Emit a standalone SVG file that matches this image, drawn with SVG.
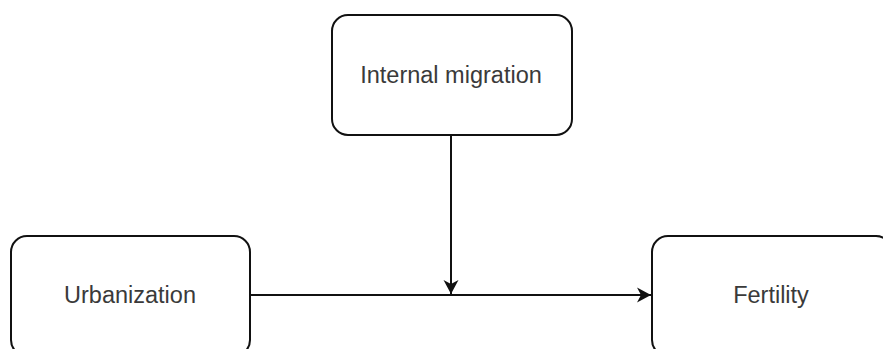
<svg xmlns="http://www.w3.org/2000/svg" width="883" height="349" viewBox="0 0 883 349">
<style>
.box{fill:#fff;stroke:#111;stroke-width:2}
.lbl{font-family:"Liberation Sans",Arial,sans-serif;font-size:23.5px;fill:#3a3a3a;text-anchor:middle}
.edge{stroke:#111;stroke-width:2;fill:none}
</style>
<defs>
<marker id="arr" markerWidth="18" markerHeight="18" refX="15" refY="9" orient="auto" markerUnits="userSpaceOnUse">
<path d="M1,1.5 L15,9 L1,16.5 L5,9 Z" fill="#111"/>
</marker>
</defs>
<rect width="883" height="349" fill="#fff"/>
<g id="internal-migration">
<rect class="box" x="332" y="15" width="240" height="120" rx="16" ry="16"/>
<text class="lbl" x="451" y="83">Internal migration</text>
</g>
<g id="urbanization">
<rect class="box" x="11" y="236" width="239" height="120" rx="16" ry="16"/>
<text class="lbl" x="130" y="303">Urbanization</text>
</g>
<g id="fertility">
<rect class="box" x="652" y="236" width="240" height="120" rx="16" ry="16"/>
<text class="lbl" x="771" y="303">Fertility</text>
</g>
<g id="connectors">
<line class="edge" x1="250" y1="295" x2="651" y2="295" marker-end="url(#arr)"/>
<line class="edge" x1="451" y1="135" x2="451" y2="294" marker-end="url(#arr)"/>
</g>
</svg>
